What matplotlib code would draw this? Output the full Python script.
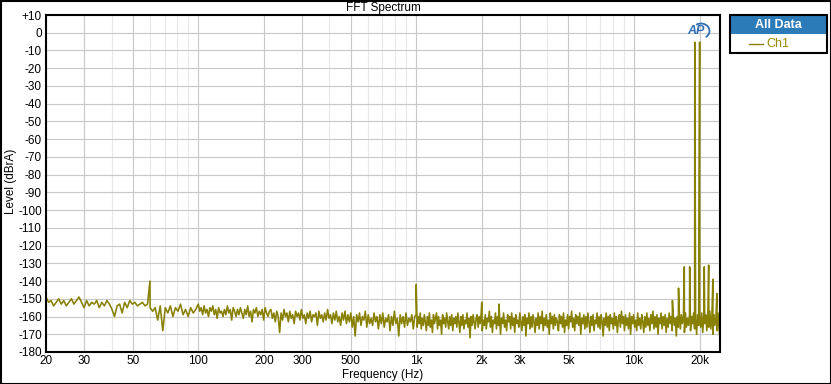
import numpy as np
import matplotlib
matplotlib.use("Agg")
import matplotlib.pyplot as plt
import matplotlib.ticker as mticker
from matplotlib.patches import Rectangle, Arc

# =============================================
# DATA (levels, dBrA)
# =============================================
# noise floor 20 Hz - 100 Hz
noise_a = [-149, -152, -151, -154, -152, -150, -153, -151, -154, -152,
           -150, -153, -151, -149, -152, -155, -151, -154, -152, -153,
           -151, -155, -152, -154, -151, -153, -156, -160, -154, -153,
           -158, -152, -155, -151, -153, -152, -154, -153, -152, -154,
           -153, -155, -157, -155, -162, -154, -168, -155, -158, -154,
           -160, -155, -157, -153, -159, -156, -160, -155, -158, -156]

# noise floor 100 Hz - 1 kHz
noise_b = [-153, -157, -155, -159, -154, -158, -156, -160, -155, -157,
           -154, -159, -156, -161, -155, -158, -157, -160, -156, -159,
           -154, -158, -156, -162, -155, -157, -160, -156, -159, -155,
           -158, -161, -156, -159, -154, -160, -157, -163, -156, -158,
           -155, -160, -157, -159, -156, -162, -155, -158, -160, -157,
           -156, -161, -158, -163, -157, -160, -169, -158, -162, -156,
           -160, -158, -163, -157, -161, -159, -164, -157, -160, -158,
           -162, -156, -161, -159, -164, -158, -161, -157, -163, -159,
           -160, -158, -165, -157, -161, -159, -163, -158, -162, -156,
           -161, -159, -164, -158, -162, -157, -163, -160, -165, -158,
           -162, -157, -164, -159, -163, -158, -166, -160, -171, -159,
           -163, -158, -165, -160, -162, -157, -166, -159, -164, -161,
           -165, -158, -163, -160, -167, -159, -164, -158, -166, -161,
           -163, -159, -168, -160, -165, -157, -164, -161, -171, -159,
           -164, -160, -166, -158, -165, -161, -163, -159, -167, -160]

# noise floor 1 kHz - 24.8 kHz
noise_c = [-159, -166, -160, -164, -158, -167, -161, -165, -159, -163, -168, -160, -165, -158, -166, -162, -169, -159, -164, -161,
           -158, -167, -160, -165, -162, -170, -159, -164, -161, -166, -158, -163, -167, -160, -165, -159, -168, -161, -164, -160,
           -166, -158, -163, -169, -160, -165, -159, -167, -162, -164, -158, -166, -161, -172, -160, -165, -159, -163, -167, -161,
           -159, -166, -160, -164, -158, -168, -162, -165, -159, -167, -161, -163, -157, -166, -160, -169, -162, -164, -158, -167,
           -160, -165, -159, -170, -161, -164, -158, -166, -162, -168, -159, -163, -160, -167, -158, -165, -161, -169, -159, -164,
           -162, -166, -158, -163, -168, -160, -165, -159, -171, -161, -164, -158, -167, -160, -166, -159, -163, -169, -161, -165,
           -158, -167, -160, -164, -157, -168, -161, -165, -159, -166, -162, -170, -158, -164, -160, -167, -159, -165, -161, -163,
           -168, -159, -164, -160, -166, -158, -169, -162, -165, -159, -167, -160, -163, -157, -166, -161, -168, -159, -164, -160,
           -165, -158, -170, -161, -164, -159, -167, -160, -166, -158, -163, -169, -160, -165, -159, -168, -162, -164, -158, -166,
           -160, -167, -159, -163, -171, -161, -165, -158, -166, -160, -168, -159, -164, -161, -167, -158, -165, -160, -169, -162,
           -159, -166, -157, -164, -160, -168, -159, -165, -161, -167, -158, -170, -160, -164, -159, -166, -162, -168, -158, -165,
           -161, -167, -159, -163, -169, -160, -166, -158, -165, -161, -168, -159, -164, -157, -167, -160, -166, -159, -170, -161,
           -164, -158, -167, -160, -165, -159, -169, -161, -166, -158, -164, -160, -168, -159, -165, -161, -171, -160, -166, -158,
           -167, -159, -164, -160, -169, -158, -166, -161, -165, -159, -168, -160, -164, -158, -167, -161, -170, -159, -165, -160,
           -166, -158, -169, -160, -164, -159, -168, -161, -166, -157, -167, -160, -170, -159, -165, -161, -168, -158, -166, -173]

# discrete tones / spurs
spike_freqs = [60, 1000, 2000, 2400, 15000, 16000, 17000, 18000, 19000,
               20000, 21000, 22000, 23000, 24000]
spike_levels = [-140, -142, -152, -153, -151, -144, -132, -132, -5.3,
                -5.3, -132, -131, -139, -147]

x_ticks = [20, 30, 50, 100, 200, 300, 500, 1000, 2000, 3000, 5000, 10000, 20000]
x_labels = ["20", "30", "50", "100", "200", "300", "500", "1k", "2k", "3k", "5k", "10k", "20k"]
y_ticks = list(range(-180, 11, 10))
y_labels = ["+10" if v > 0 else str(v) for v in y_ticks]

# =============================================
# SERIES
# =============================================
freq = np.concatenate([
    np.geomspace(20, 100, len(noise_a), endpoint=False),
    np.geomspace(100, 1000, len(noise_b), endpoint=False),
    np.geomspace(1000, 24800, len(noise_c)),
    spike_freqs,
])
level = np.concatenate([noise_a, noise_b, noise_c, spike_levels]).astype(float)
order = np.argsort(freq)
freq, level = freq[order], level[order]

# =============================================
# PLOT
# =============================================
plt.rcParams["font.family"] = ["Liberation Sans", "DejaVu Sans"]
LINE = "#878000"
W, H = 831, 384

fig = plt.figure(figsize=(W / 100, H / 100), dpi=100)
ax = fig.add_axes([46 / W, 32 / H, 674 / W, 337 / H])

ax.semilogx(freq, level, color=LINE, lw=1.15)
ax.set_xlim(20, 24800)
ax.set_ylim(-180, 10)

ax.xaxis.set_major_locator(mticker.FixedLocator(x_ticks))
ax.xaxis.set_major_formatter(mticker.FixedFormatter(x_labels))
minor = [m * 10 ** d for d in range(1, 5) for m in range(2, 10)]
minor = [v for v in minor if v not in x_ticks and 20 < v < 24800]
ax.xaxis.set_minor_locator(mticker.FixedLocator(minor))
ax.xaxis.set_minor_formatter(mticker.NullFormatter())
ax.set_yticks(y_ticks)
ax.set_yticklabels(y_labels)

ax.grid(which="major", color="#c8c8c8", lw=0.8)
ax.grid(which="minor", axis="x", color="#e8e8e8", lw=0.8)
ax.set_axisbelow(True)
ax.tick_params(which="both", length=0, labelsize=8.5)
ax.tick_params(axis="x", pad=2)
ax.tick_params(axis="y", pad=3)
for sp in ax.spines.values():
    sp.set_linewidth(1.5)
    sp.set_color("black")

fig.text(383 / W, 1 - 7.5 / H, "FFT Spectrum", ha="center", va="center", fontsize=8.5)
fig.text(383 / W, 1 - 375 / H, "Frequency (Hz)", ha="center", va="center", fontsize=8.5)
fig.text(11 / W, 1 - 181 / H, "Level (dBrA)", ha="center", va="center",
         rotation=90, fontsize=8.5)

# AP logo
ax.text(0.964, 0.953, "AP", transform=ax.transAxes, ha="center", va="center",
        fontsize=9, fontweight="bold", style="italic", color="#2f6fb5")
fig.patches.append(Arc((701 / W, 1 - 31 / H), 17 / W, 15 / H, theta1=-70, theta2=110,
                       transform=fig.transFigure, color="#2f6fb5", lw=1.3))

# legend panel
def px_rect(x0, y0, x1, y1, **kw):
    return Rectangle((x0 / W, 1 - y1 / H), (x1 - x0) / W, (y1 - y0) / H,
                     transform=fig.transFigure, **kw)

fig.patches.append(px_rect(730, 15, 827, 34, facecolor="#2b7bb9", edgecolor="none"))
fig.patches.append(px_rect(730, 15, 827, 53, facecolor="none", edgecolor="black", lw=1.5))
fig.text(778 / W, 1 - 24.5 / H, "All Data", ha="center", va="center",
         fontsize=9, fontweight="bold", color="white")
fig.lines.append(plt.Line2D([749 / W, 763 / W], [1 - 44 / H, 1 - 44 / H],
                            transform=fig.transFigure, color=LINE, lw=1))
fig.text(766 / W, 1 - 44 / H, "Ch1", ha="left", va="center", fontsize=9, color="#9a8c00")

# outer frame
fig.patches.append(px_rect(0.5, 0.5, W - 0.5, H - 0.5, facecolor="none",
                           edgecolor="black", lw=1.5))

fig.savefig("out.png", dpi=100)
